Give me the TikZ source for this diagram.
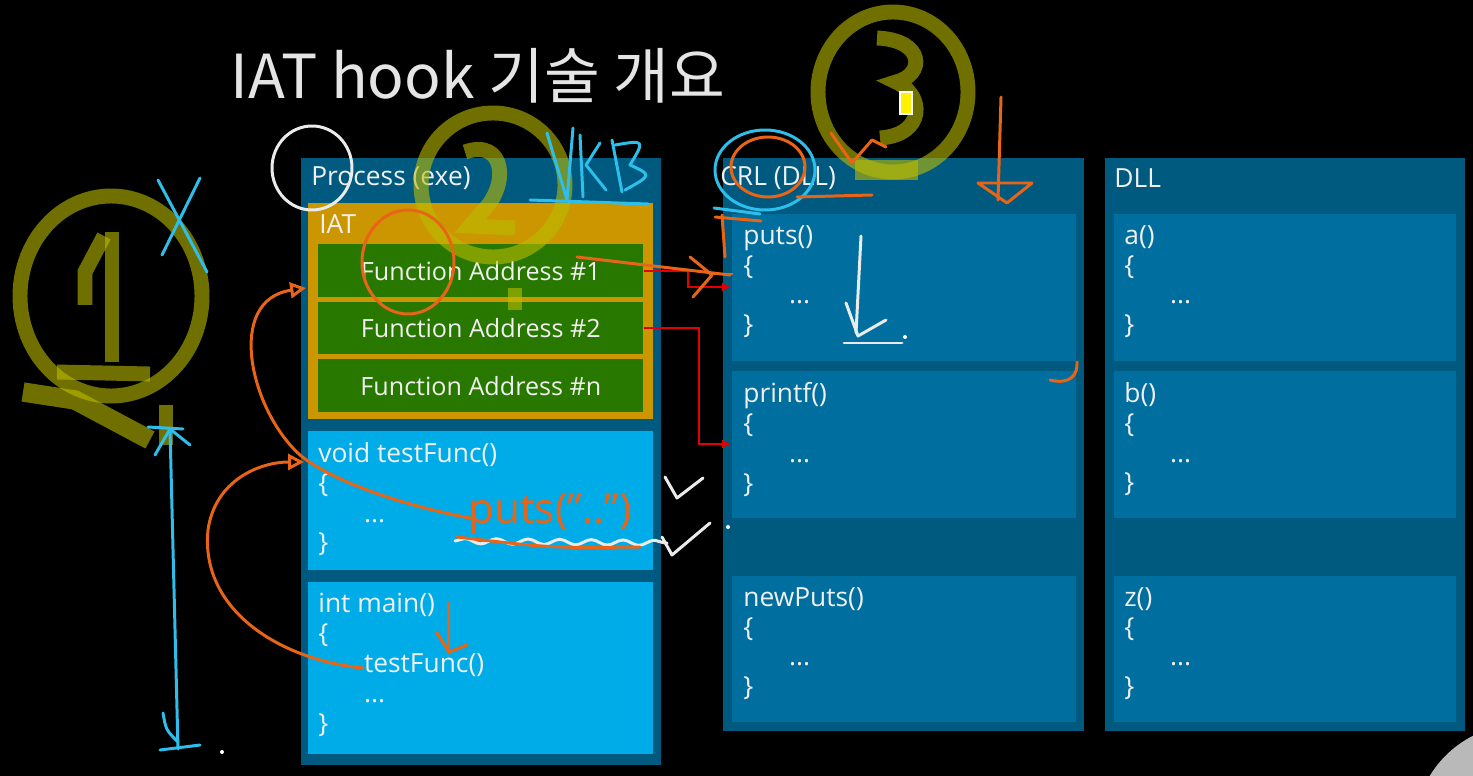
\documentclass[tikz,border=0pt]{standalone}
\usepackage{fontspec}
\setmainfont{Open Sans}
\newfontfamily\krfont{Noto Sans CJK KR}
\usetikzlibrary{arrows.meta}
\usetikzlibrary{decorations.pathmorphing}

\definecolor{panel}{RGB}{0,90,128}
\definecolor{subbox}{RGB}{0,110,158}
\definecolor{iatc}{RGB}{204,150,0}
\definecolor{rowc}{RGB}{40,120,0}
\definecolor{lightc}{RGB}{0,172,232}
\definecolor{txt}{RGB}{240,240,240}
\definecolor{redc}{RGB}{228,0,0}
\definecolor{orangec}{RGB}{232,100,22}
\definecolor{bluec}{RGB}{45,190,235}
\definecolor{olivec}{RGB}{187,187,0}

\newcommand\ind{\hspace*{26pt}}

\tikzset{
  sz/.style 2 args={minimum width=#1*0.02cm, minimum height=#2*0.02cm},
  box/.style={inner sep=0pt, anchor=north west, draw=none},
  code/.style={anchor=north west, inner sep=0pt, align=left, text=txt,
    font=\fontsize{15}{17}\selectfont},
  head/.style={anchor=west, inner sep=0pt, text=txt, font=\fontsize{15}{17}\selectfont},
  faddr/.style={box, fill=rowc, text=txt, font=\fontsize{14.3}{17}\selectfont},
  redline/.style={draw=redc, line width=1.2pt, ->},
  orangepen/.style={draw=orangec, line width=1.7pt, line cap=round, line join=round},
  bluepen/.style={draw=bluec, line width=1.7pt, line cap=round, line join=round},
  whitepen/.style={draw=white!92!black, line width=1.7pt, line cap=round, line join=round},
  olivepen/.style={draw=olivec, line width=8.5pt, opacity=0.6}
}

\begin{document}
\begin{tikzpicture}[x=0.02cm, y=-0.02cm, >/.tip={Latex[length=5pt,width=5pt]}]
	\fill[black] (0,0) rectangle (1473,776);
	\useasboundingbox (0,0) rectangle (1473,776);

	% title
	\node[anchor=west, inner sep=0pt, text=white!90!black, font=\krfont\fontsize{34.5}{36}\selectfont] (title) at (230,76) {IAT hook 기술 개요};

	% process (exe)
	\draw (301,158) node (proc) [box, sz={360}{607}, fill=panel] {};
	\node [head] (procT) at (311,178) {Process (exe)};
	\draw (308,203) node (iat) [box, sz={345}{216}, fill=iatc] {};
	\node [head] (iatT) at (319,224) {IAT};
	\draw (318,244) node (fa1) [faddr, sz={325}{53}] {Function Address \#1};
	\draw (318,302) node (fa2) [faddr, sz={325}{52}] {Function Address \#2};
	\draw (318,359) node (fan) [faddr, sz={325}{53}] {Function Address \#n};
	\draw (308,431) node (tfun) [box, sz={345}{139}, fill=lightc] {};
	\node [code] (tfunT) at ([shift={(10,11)}]tfun.north west) {void testFunc()\\\{\\\ind...\\\}};
	\draw (308,582) node (mainb) [box, sz={345}{172}, fill=lightc] {};
	\node [code] (mainT) at ([shift={(10,11)}]mainb.north west) {int main()\\\{\\\ind testFunc()\\\ind...\\\}};

	% CRL (DLL)
	\draw (723,158) node (crl) [box, sz={361}{573}, fill=panel] {};
	\node [head] (crlT) at (720,178) {CRL (DLL)};
	\draw (732,214) node (puts) [box, sz={344}{147}, fill=subbox] {};
	\node [code] (putsT) at ([shift={(11,11)}]puts.north west) {puts()\\\{\\\ind...\\\}};
	\draw (732,371) node (printf) [box, sz={344}{147}, fill=subbox] {};
	\node [code] (printfT) at ([shift={(11,11)}]printf.north west) {printf()\\\{\\\ind...\\\}};
	\draw (732,576) node (newputs) [box, sz={344}{146}, fill=subbox] {};
	\node [code] (newputsT) at ([shift={(11,11)}]newputs.north west) {newPuts()\\\{\\\ind...\\\}};

	% DLL
	\draw (1105,158) node (dll) [box, sz={360}{573}, fill=panel] {};
	\node [head] (dllT) at (1114,178) {DLL};
	\draw (1114,214) node (fa) [box, sz={342}{147}, fill=subbox] {};
	\node [code] (faT) at ([shift={(10,11)}]fa.north west) {a()\\\{\\\ind...\\\}};
	\draw (1114,371) node (fb) [box, sz={342}{147}, fill=subbox] {};
	\node [code] (fbT) at ([shift={(10,11)}]fb.north west) {b()\\\{\\\ind...\\\}};
	\draw (1114,576) node (fz) [box, sz={342}{146}, fill=subbox] {};
	\node [code] (fzT) at ([shift={(10,11)}]fz.north west) {z()\\\{\\\ind...\\\}};

	% IAT -> CRL
	\coordinate (in1) at (731,287);
	\coordinate (in2) at (731,444);
	\draw[redline] (fa1.east) -- ++(44,0) |- (in1);
	\draw[redline] (fa2.east) -- ++(55,0) |- (in2);

	% pen notes
	\draw[olivepen] (111,296) ellipse [x radius=91, y radius=100];
	\draw[olivepen] (112,232) -- (112,362);
	\draw[olivepen] (104,236) -- (85,272) -- (85,305);
	\draw[olivepen] (57,372) -- (150,374);
	\draw[olivepen, line width=11pt] (23,392) -- (75,400) -- (150,440);
	\draw[olivepen] (166,405) -- (166,445);
	\draw[olivepen] (493,185) ellipse [x radius=72, y radius=72];
	\draw[olivepen] (465,152) .. controls (505,138) and (510,185) .. (482,212) -- (470,226) -- (515,228);
	\fill[olivec, opacity=0.6] (508,288) rectangle (522,310);
	\draw[olivepen] (893,92) ellipse [x radius=75, y radius=80];
	\draw[olivepen] (877,38) .. controls (925,40) and (925,75) .. (896,82) .. controls (925,95) and (925,135) .. (880,138);
	\fill[olivec, opacity=0.6] (855,160) rectangle (918,180);
	\fill[yellow, draw=white, line width=0.6pt] (900,92) rectangle (912,114);

	\draw[bluepen] (158,180) -- (207,272);
	\draw[bluepen] (200,178) -- (162,255);
	\draw[bluepen] (170,429) -- (178,749);
	\draw[bluepen] (155,455) -- (170,429) -- (190,445);
	\draw[bluepen] (148,427) -- (183,429);
	\draw[bluepen] (163,713) .. controls (166,730) .. (178,742);
	\draw[bluepen] (160,750) -- (200,745);
	\draw[bluepen] (547,133) -- (567,200) -- (573,128);
	\draw[bluepen] (580,135) -- (583,197);
	\draw[bluepen] (600,143) -- (586,165) -- (606,190);
	\draw[bluepen] (612,140) -- (622,192);
	\draw[bluepen] (615,145) .. controls (645,140) .. (630,165) .. controls (652,175) .. (625,190);
	\draw[bluepen] (530,200) -- (648,204);
	\draw[bluepen] (765,170) ellipse [x radius=50, y radius=40];
	\draw[bluepen] (714,208) -- (760,214);

	\draw[whitepen] (312,168) ellipse [x radius=40, y radius=42];
	\draw[whitepen] (665,477) -- (677,498) -- (703,478);
	\draw[whitepen] (662,537) -- (672,555) -- (710,523);
	\draw[whitepen, decorate, decoration={snake, amplitude=1.5pt, segment length=18pt}] (455,541) -- (667,543);
	\draw[whitepen] (861,236) -- (856,333);
	\draw[whitepen] (846,303) -- (858,336) -- (886,320);
	\draw[whitepen] (844,343) -- (902,343);
	\fill[white] (905,337) circle (2);
	\fill[white] (222,752) circle (2);
	\fill[white] (728,527) circle (2);

	\draw[orangepen, -{Triangle[open,length=9pt,width=9pt]}] (470,518) .. controls (400,505) and (330,480) .. (300,455) .. controls (250,410) and (225,300) .. (306,288);
	\draw[orangepen, -{Triangle[open,length=9pt,width=9pt]}] (363,668) .. controls (280,660) and (200,610) .. (208,530) .. controls (215,480) and (260,462) .. (304,462);
	\draw[orangepen] (577,257) -- (730,275);
	\draw[orangepen] (690,257) -- (712,275) -- (693,297);
	\draw[orangepen] (408,262) ellipse [x radius=46, y radius=52];
	\node[anchor=west, text=orangec, inner sep=0pt, font=\fontsize{24}{24}\selectfont] (putsNote) at (468,514) {puts("..")};
	\draw[orangepen] (457,537) .. controls (550,548) .. (640,547);
	\draw[orangepen] (448,603) -- (448,653);
	\draw[orangepen] (437,633) -- (449,652) -- (467,645);
	\draw[orangepen] (768,167) ellipse [x radius=37, y radius=30];
	\draw[orangepen] (797,197) -- (872,195);
	\draw[orangepen] (715,217) -- (761,221);
	\draw[orangepen] (722,215) -- (725,257);
	\draw[orangepen] (710,274) -- (732,274);
	\draw[orangepen] (1001,97) -- (998,200);
	\draw[orangepen] (978,183) -- (1032,183) -- (1007,203) -- cycle;
	\draw[orangepen] (831,133) -- (852,163) -- (872,140) -- (886,147);
	\draw[orangepen] (1050,380) .. controls (1070,385) and (1078,375) .. (1077,362);

	\begin{scope}
		\clip (0,0) rectangle (1473,776);
		\fill[gray!55!white] (1522,832) circle (108);
	\end{scope}
\end{tikzpicture}
\end{document}
